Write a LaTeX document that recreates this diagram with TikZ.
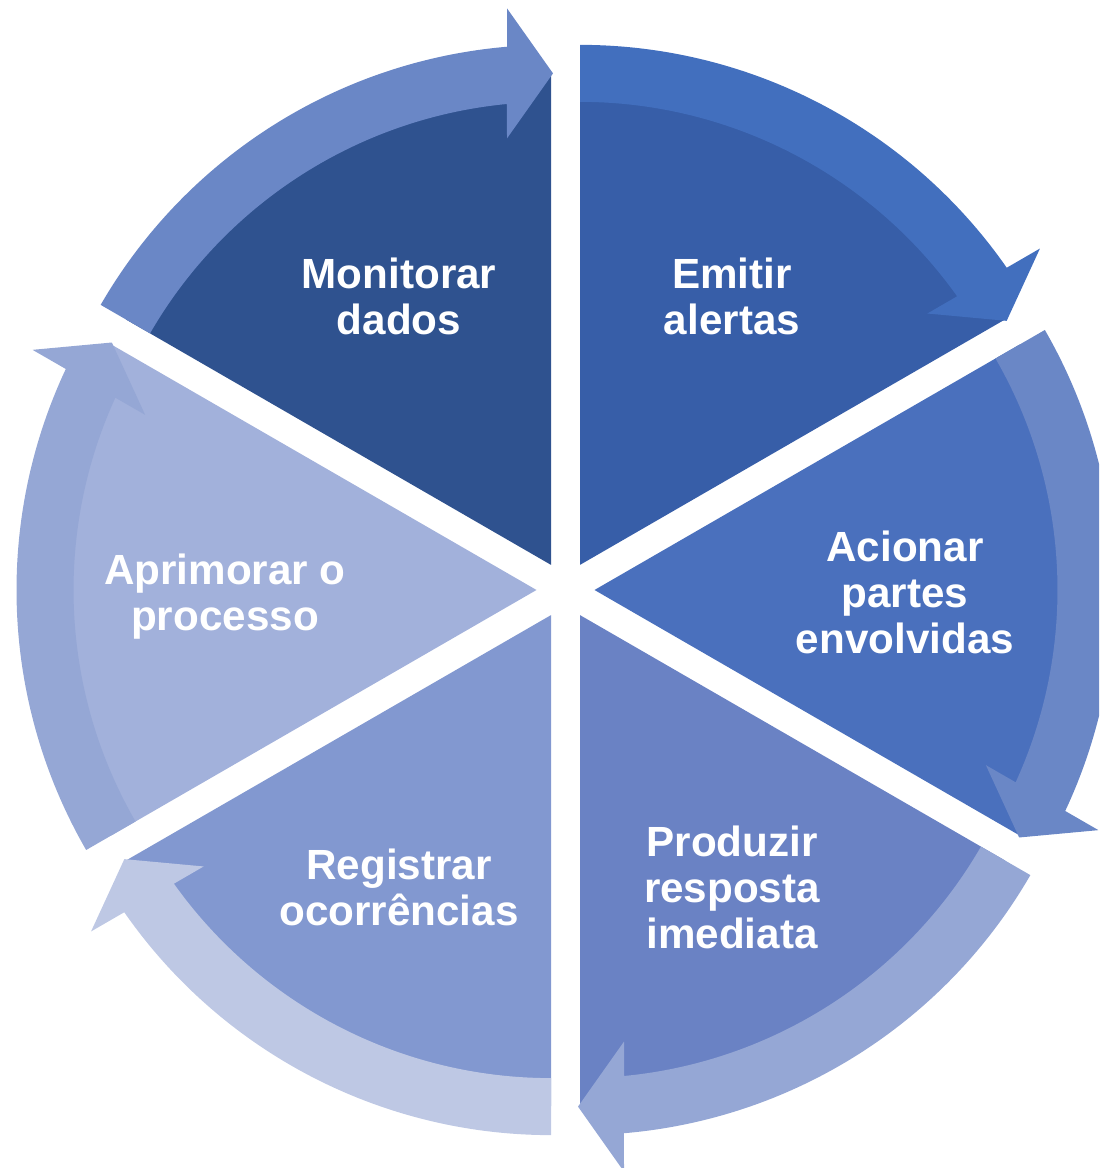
\documentclass[tikz,border=0pt]{standalone}
\usepackage{fontspec}
\setmainfont{Liberation Sans}
\definecolor{monitorfill}{HTML}{2F528F}
\definecolor{alertfill}{HTML}{375EA8}
\definecolor{acionarfill}{HTML}{4A70BD}
\definecolor{respostafill}{HTML}{6A82C4}
\definecolor{registrofill}{HTML}{8298D0}
\definecolor{melhoriafill}{HTML}{A2B1DB}
\definecolor{monitorarrow}{HTML}{6A87C6}
\definecolor{alertarrow}{HTML}{426FBE}
\definecolor{acionararrow}{HTML}{6A87C6}
\definecolor{respostaarrow}{HTML}{95A7D5}
\definecolor{registroarrow}{HTML}{BEC8E4}
\definecolor{melhoriaarrow}{HTML}{95A7D5}

\begin{document}
\begin{tikzpicture}[x=0.01cm, y=0.01cm,
	seglabel/.style={
		text=white, align=center, inner sep=0pt,
		font=\fontsize{12}{13.1}\selectfont\bfseries
	}
	]
	\useasboundingbox (-565.5,-578) rectangle (533.5,590);
	\clip (-565.5,-578) rectangle (533.5,590);
	
	% fatias, afastadas do centro ao longo da bissetriz
	\foreach \b/\wc in {120/monitorfill, 60/alertfill, 0/acionarfill,
		-60/respostafill, -120/registrofill, 180/melhoriafill}
	\fill[\wc] (\b:29) -- ++(\b-30:491)
		arc[start angle=\b-30, end angle=\b+30, radius=491] -- cycle;
	
	% setas curvas por cima da borda de cada fatia
	\foreach \b/\ac in {120/monitorarrow, 60/alertarrow, 0/acionararrow,
		-60/respostaarrow, -120/registroarrow, 180/melhoriaarrow}
	{
		\begin{scope}[shift={(\b:29)}, rotate=\b-120]
			\fill[\ac] (150:520) arc[start angle=150, end angle=94.85, radius=520]
				-- (-44,556.5) -- (2,491.5) -- (-44,426.5)
				-- (95.46:463) arc[start angle=95.46, end angle=150, radius=463] -- cycle;
		\end{scope}
	}
	
	% textos
	\node[seglabel] (monitorar) at (-166.5,293.5) {Monitorar\\dados};
	\node[seglabel] (emitir)    at (166.5,293.5)  {Emitir\\alertas};
	\node[seglabel] (acionar)   at (339.5,-2)     {Acionar\\partes\\envolvidas};
	\node[seglabel] (produzir)  at (166.5,-297)   {Produzir\\resposta\\imediata};
	\node[seglabel] (registrar) at (-166.5,-297)  {Registrar\\ocorrências};
	\node[seglabel] (aprimorar) at (-340.5,-7)    {Aprimorar o\\processo};
\end{tikzpicture}
\end{document}
